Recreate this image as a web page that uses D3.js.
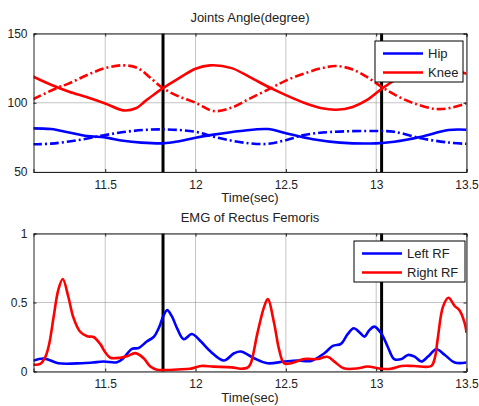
<!DOCTYPE html>
<html>
<head>
<meta charset="utf-8">
<script src="https://cdn.jsdelivr.net/npm/d3@7"></script>
<style>
  body { margin: 0; background: #fff; }
  svg { font-family: "Liberation Sans", Arial, sans-serif; }
</style>
</head>
<body>
<div class="viz"></div>
<script>
// --- data ---
var xTicks = [11.5, 12, 12.5, 13, 13.5]
var markers = [11.82, 13.03]

var angleTicks = [50, 100, 150]
var emgTicks = [0, 0.5, 1]

// knee (red)
var kneeSolidT = [11.1, 11.2, 11.3, 11.4, 11.5, 11.6, 11.67, 11.72, 11.77, 11.82, 11.9, 12.0, 12.08, 12.2, 12.3, 12.417, 12.5, 12.6, 12.7, 12.78, 12.87, 12.95, 13.03, 13.1, 13.2, 13.32, 13.5]
var kneeSolidV = [119, 113, 108, 104, 99.5, 94.5, 96, 101, 106, 110.5, 117, 124.5, 127, 125, 118.5, 110.5, 105.5, 100, 96, 95, 97, 102, 110, 116, 122, 126, 121]
var kneeDashT = [11.1, 11.23, 11.3, 11.4, 11.5, 11.6, 11.68, 11.75, 11.82, 11.9, 12.0, 12.1, 12.2, 12.3, 12.417, 12.5, 12.6, 12.7, 12.78, 12.87, 12.95, 13.03, 13.1, 13.2, 13.33, 13.42, 13.5]
var kneeDashV = [102.5, 110.5, 114, 120, 125, 127, 125, 118, 110.5, 105, 100, 94, 96.5, 103, 110.5, 116, 121, 125, 126.5, 124, 118.5, 111.5, 106, 100, 95.5, 96.5, 99.6]

// hip (blue)
var hipSolidT = [11.1, 11.2, 11.3, 11.4, 11.5, 11.6, 11.7, 11.82, 11.9, 12.0, 12.1, 12.25, 12.4, 12.5, 12.65, 12.8, 13.0, 13.1, 13.25, 13.4, 13.5]
var hipSolidV = [81.5, 81, 78.5, 76, 75, 72.5, 71.2, 70.7, 72, 74.8, 77, 79.6, 81, 78, 73.6, 71.2, 70.7, 71.9, 75.5, 80.3, 80.5]
var hipDashT = [11.1, 11.2, 11.35, 11.5, 11.65, 11.82, 12.0, 12.1, 12.2, 12.3, 12.4, 12.5, 12.6, 12.75, 13.0, 13.1, 13.25, 13.4, 13.5]
var hipDashV = [70, 70.5, 73, 76.7, 79.6, 80.8, 79, 75.5, 72.6, 70.7, 70.3, 73, 76.7, 78.9, 79.6, 79, 74.3, 71.3, 70.3]

// EMG rectus femoris
var rightRfT = [11.1, 11.14, 11.17, 11.19, 11.215, 11.24, 11.265, 11.296, 11.324, 11.36, 11.4, 11.435, 11.472, 11.5, 11.528, 11.583, 11.62, 11.667, 11.713, 11.75, 11.787, 11.82, 11.9, 11.97, 12.03, 12.1, 12.2, 12.25, 12.29, 12.306, 12.343, 12.38, 12.4, 12.435, 12.463, 12.49, 12.53, 12.6, 12.676, 12.73, 12.77, 12.82, 12.9, 12.95, 13.03, 13.08, 13.14, 13.21, 13.305, 13.325, 13.34, 13.37, 13.4, 13.435, 13.46, 13.49, 13.5]
var rightRfV = [0.05, 0.055, 0.11, 0.2, 0.4, 0.59, 0.67, 0.54, 0.39, 0.29, 0.255, 0.25, 0.2, 0.14, 0.1, 0.1, 0.11, 0.133, 0.096, 0.036, 0.012, 0.01, 0.015, 0.02, 0.04, 0.035, 0.03, 0.02, 0.03, 0.06, 0.28, 0.47, 0.525, 0.35, 0.157, 0.06, 0.06, 0.09, 0.09, 0.107, 0.07, 0.023, 0.023, 0.036, 0.02, 0.02, 0.04, 0.04, 0.04, 0.1, 0.23, 0.47, 0.534, 0.474, 0.445, 0.35, 0.28]
var leftRfT = [11.1, 11.155, 11.19, 11.24, 11.37, 11.43, 11.49, 11.565, 11.6, 11.648, 11.685, 11.73, 11.77, 11.8, 11.82, 11.843, 11.87, 11.898, 11.935, 11.98, 12.03, 12.083, 12.157, 12.213, 12.25, 12.324, 12.398, 12.49, 12.565, 12.64, 12.713, 12.76, 12.805, 12.843, 12.876, 12.907, 12.935, 12.96, 12.99, 13.03, 13.065, 13.1, 13.14, 13.176, 13.213, 13.25, 13.287, 13.333, 13.38, 13.435, 13.5]
var leftRfV = [0.077, 0.094, 0.084, 0.06, 0.06, 0.065, 0.072, 0.067, 0.096, 0.164, 0.17, 0.217, 0.253, 0.325, 0.397, 0.445, 0.397, 0.313, 0.234, 0.272, 0.217, 0.145, 0.08, 0.132, 0.145, 0.096, 0.06, 0.072, 0.08, 0.077, 0.132, 0.185, 0.2, 0.272, 0.313, 0.285, 0.253, 0.296, 0.325, 0.272, 0.176, 0.09, 0.09, 0.12, 0.108, 0.072, 0.108, 0.161, 0.12, 0.065, 0.065]

function zip(ts, vs) {
  return ts.map(function (t, i) { return { t: t, v: vs[i] } })
}

var width = 479, height = 406
var left = 33.5, right = 466.5

var svg = d3.select(".viz").append("svg")
  .attr("width", width)
  .attr("height", height)

var x = d3.scaleLinear().domain([11.103, 13.5]).range([left, right])

//function to draw one panel
function panel(cfg) {
  var y = d3.scaleLinear().domain(cfg.domain).range([cfg.bottom, cfg.top])
  var g = svg.append("g")

  var clipId = "clip" + cfg.id
  g.append("clipPath").attr("id", clipId)
    .append("rect")
    .attr("x", left).attr("y", cfg.top)
    .attr("width", right - left).attr("height", cfg.bottom - cfg.top)

  // grid
  g.append("g").selectAll("line")
    .data(xTicks)
    .enter().append("line")
    .attr("x1", function (d) { return x(d) })
    .attr("x2", function (d) { return x(d) })
    .attr("y1", cfg.top).attr("y2", cfg.bottom)
    .attr("stroke", "#8a8a8a").attr("stroke-width", 1)
    .attr("stroke-dasharray", "1,1")
  g.append("g").selectAll("line")
    .data(cfg.ticks)
    .enter().append("line")
    .attr("x1", left).attr("x2", right)
    .attr("y1", function (d) { return y(d) })
    .attr("y2", function (d) { return y(d) })
    .attr("stroke", "#8a8a8a").attr("stroke-width", 1)
    .attr("stroke-dasharray", "1,1")

  // markers
  g.append("g").selectAll("line")
    .data(markers)
    .enter().append("line")
    .attr("x1", function (d) { return x(d) })
    .attr("x2", function (d) { return x(d) })
    .attr("y1", cfg.top).attr("y2", cfg.bottom)
    .attr("stroke", "#000").attr("stroke-width", 3)

  // series
  var line = d3.line()
    .x(function (d) { return x(d.t) })
    .y(function (d) { return y(d.v) })
    .curve(d3.curveCatmullRom.alpha(0.5))

  cfg.series.forEach(function (s) {
    g.append("path")
      .datum(s.data)
      .attr("clip-path", "url(#" + clipId + ")")
      .attr("d", line)
      .attr("fill", "none")
      .attr("stroke", s.color)
      .attr("stroke-width", 2.6)
      .attr("stroke-linejoin", "round")
      .attr("stroke-dasharray", s.dash ? "9,3,2,3" : null)
  })

  // axes (MATLAB style box with inner ticks)
  var fmt = function (d) { return String(d) }
  var axB = d3.axisBottom(x).tickValues(xTicks).tickSize(-3).tickPadding(8).tickFormat(fmt)
  var axT = d3.axisTop(x).tickValues(xTicks).tickSize(-3).tickFormat("")
  var axL = d3.axisLeft(y).tickValues(cfg.ticks).tickSize(-3).tickPadding(6).tickFormat(fmt)
  var axR = d3.axisRight(y).tickValues(cfg.ticks).tickSize(-3).tickFormat("")

  function style(sel) {
    sel.selectAll("path").attr("stroke", "#222")
    sel.selectAll("line").attr("stroke", "#222")
    sel.selectAll("text").attr("font-size", 12).attr("fill", "#222")
      .attr("font-family", "Liberation Sans, Arial, sans-serif")
  }
  g.append("g").attr("transform", "translate(0," + cfg.bottom + ")").call(axB).call(style)
  g.append("g").attr("transform", "translate(0," + cfg.top + ")").call(axT).call(style)
  g.append("g").attr("transform", "translate(" + left + ",0)").call(axL).call(style)
  g.append("g").attr("transform", "translate(" + right + ",0)").call(axR).call(style)

  // titles
  g.append("text")
    .attr("x", (left + right) / 2).attr("y", cfg.top - 11.5)
    .attr("text-anchor", "middle").attr("font-size", 13).attr("fill", "#222")
    .text(cfg.title)
  g.append("text")
    .attr("x", (left + right) / 2).attr("y", cfg.bottom + 30)
    .attr("text-anchor", "middle").attr("font-size", 13).attr("fill", "#222")
    .text("Time(sec)")

  // legend
  var lg = g.append("g")
  lg.append("rect")
    .attr("x", cfg.legend.x).attr("y", cfg.legend.y)
    .attr("width", cfg.legend.w).attr("height", 41)
    .attr("fill", "#fff").attr("stroke", "#000").attr("stroke-width", 1)
  cfg.series.filter(function (s) { return s.label }).forEach(function (s, i) {
    var ly = cfg.legend.y + 12.5 + i * 19
    lg.append("line")
      .attr("x1", cfg.legend.x + 8).attr("x2", cfg.legend.x + 48)
      .attr("y1", ly).attr("y2", ly)
      .attr("stroke", s.color).attr("stroke-width", 2.6)
    lg.append("text")
      .attr("x", cfg.legend.x + 53).attr("y", ly + 4.5)
      .attr("font-size", 13).attr("fill", "#222")
      .text(s.label)
  })
}

panel({
  id: "a", top: 33.5, bottom: 172, domain: [50, 150], ticks: angleTicks,
  title: "Joints Angle(degree)",
  legend: { x: 375, y: 41, w: 88 },
  series: [
    { data: zip(hipSolidT, hipSolidV), color: "#0000ff", label: "Hip" },
    { data: zip(kneeSolidT, kneeSolidV), color: "#ff0000", label: "Knee" },
    { data: zip(hipDashT, hipDashV), color: "#0000ff", dash: true },
    { data: zip(kneeDashT, kneeDashV), color: "#ff0000", dash: true }
  ]
})

panel({
  id: "b", top: 233.5, bottom: 371.5, domain: [0, 1], ticks: emgTicks,
  title: "EMG of Rectus Femoris",
  legend: { x: 354, y: 241, w: 111 },
  series: [
    { data: zip(leftRfT, leftRfV), color: "#0000ff", label: "Left RF" },
    { data: zip(rightRfT, rightRfV), color: "#ff0000", label: "Right RF" }
  ]
})
</script>
</body>
</html>
